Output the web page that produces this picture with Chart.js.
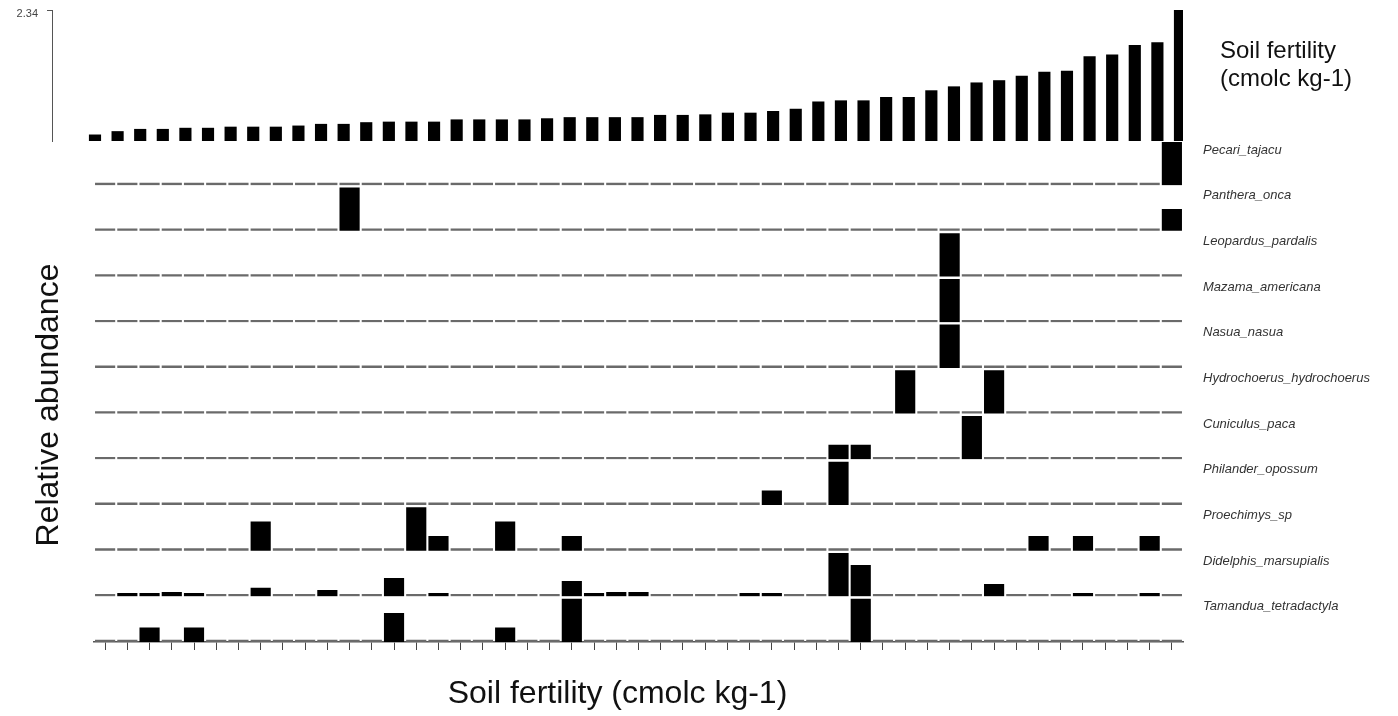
<!DOCTYPE html>
<html>
<head>
<meta charset="utf-8">
<title>Relative abundance along a soil fertility gradient</title>
<script src="https://cdn.jsdelivr.net/npm/chart.js@4.4.1/dist/chart.umd.min.js"></script>
<style>
  html, body { margin: 0; padding: 0; background: #ffffff; }
  #wrap { position: relative; width: 1398px; height: 716px; overflow: hidden; }
  #wrap canvas { position: absolute; left: 0; top: 0; }
</style>
</head>
<body>
<div id="wrap">
  <canvas id="fertilityChart" width="1398" height="716"></canvas>
  <canvas id="abundanceChart" width="1398" height="716"></canvas>
</div>
<script>
// Sampling sites, ordered by increasing soil fertility
const sites = ['1','2','3','4','5','6','7','8','9','10','11','12','13','14','15','16','17',
  '18','19','20','21','22','23','24','25','26','27','28','29','30','31','32','33','34','35',
  '36','37','38','39','40','41','42','43','44','45','46','47','48','49'];

// Soil fertility of each site (cmolc kg-1)
const fertility = [0.11, 0.17, 0.21, 0.21, 0.23, 0.23, 0.25, 0.25, 0.25, 0.27,
  0.30, 0.30, 0.33, 0.34, 0.34, 0.34, 0.38, 0.38, 0.38, 0.38,
  0.40, 0.42, 0.42, 0.42, 0.42, 0.46, 0.46, 0.47, 0.50, 0.50,
  0.53, 0.57, 0.70, 0.72, 0.72, 0.78, 0.78, 0.90, 0.97, 1.04,
  1.08, 1.16, 1.23, 1.25, 1.51, 1.54, 1.71, 1.76, 2.34];
const fertilityTick = 2.34;

// Relative abundance of each species per site (same site order)
const Pecari_tajacu = [0,0,0,0,0,0,0,0,0,0, 0,0,0,0,0,0,0,0,0,0, 0,0,0,0,0,0,0,0,0,0, 0,0,0,0,0,0,0,0,0,0, 0,0,0,0,0,0,0,0,1];
const Panthera_onca = [0,0,0,0,0,0,0,0,0,0, 0,1,0,0,0,0,0,0,0,0, 0,0,0,0,0,0,0,0,0,0, 0,0,0,0,0,0,0,0,0,0, 0,0,0,0,0,0,0,0,0.5];
const Leopardus_pardalis = [0,0,0,0,0,0,0,0,0,0, 0,0,0,0,0,0,0,0,0,0, 0,0,0,0,0,0,0,0,0,0, 0,0,0,0,0,0,0,0,1,0, 0,0,0,0,0,0,0,0,0];
const Mazama_americana = [0,0,0,0,0,0,0,0,0,0, 0,0,0,0,0,0,0,0,0,0, 0,0,0,0,0,0,0,0,0,0, 0,0,0,0,0,0,0,0,1,0, 0,0,0,0,0,0,0,0,0];
const Nasua_nasua = [0,0,0,0,0,0,0,0,0,0, 0,0,0,0,0,0,0,0,0,0, 0,0,0,0,0,0,0,0,0,0, 0,0,0,0,0,0,0,0,1,0, 0,0,0,0,0,0,0,0,0];
const Hydrochoerus_hydrochoerus = [0,0,0,0,0,0,0,0,0,0, 0,0,0,0,0,0,0,0,0,0, 0,0,0,0,0,0,0,0,0,0, 0,0,0,0,0,0,1,0,0,0, 1,0,0,0,0,0,0,0,0];
const Cuniculus_paca = [0,0,0,0,0,0,0,0,0,0, 0,0,0,0,0,0,0,0,0,0, 0,0,0,0,0,0,0,0,0,0, 0,0,0,0.33,0.33,0,0,0,0,1, 0,0,0,0,0,0,0,0,0];
const Philander_opossum = [0,0,0,0,0,0,0,0,0,0, 0,0,0,0,0,0,0,0,0,0, 0,0,0,0,0,0,0,0,0,0, 0.33,0,0,1,0,0,0,0,0,0, 0,0,0,0,0,0,0,0,0];
const Proechimys_sp = [0,0,0,0,0,0,0,0.67,0,0, 0,0,0,0,1,0.33,0,0,0.67,0, 0,0.33,0,0,0,0,0,0,0,0, 0,0,0,0,0,0,0,0,0,0, 0,0,0.33,0,0.33,0,0,0.33,0];
const Didelphis_marsupialis = [0,0.07,0.07,0.09,0.07,0,0,0.19,0,0, 0.14,0,0,0.42,0,0.07,0,0,0,0, 0,0.35,0.07,0.09,0.09,0,0,0,0,0.07, 0.07,0,0,1,0.72,0,0,0,0,0, 0.28,0,0,0,0.07,0,0,0.07,0];
const Tamandua_tetradactyla = [0,0,0.33,0,0.33,0,0,0,0,0, 0,0,0,0.67,0,0,0,0,0.33,0, 0,1,0,0,0,0,0,0,0,0, 0,0,0,0,1,0,0,0,0,0, 0,0,0,0,0,0,0,0,0];

const speciesNames = ['Pecari_tajacu', 'Panthera_onca', 'Leopardus_pardalis', 'Mazama_americana',
  'Nasua_nasua', 'Hydrochoerus_hydrochoerus', 'Cuniculus_paca', 'Philander_opossum',
  'Proechimys_sp', 'Didelphis_marsupialis', 'Tamandua_tetradactyla'];
const speciesValues = [Pecari_tajacu, Panthera_onca, Leopardus_pardalis, Mazama_americana,
  Nasua_nasua, Hydrochoerus_hydrochoerus, Cuniculus_paca, Philander_opossum,
  Proechimys_sp, Didelphis_marsupialis, Tamandua_tetradactyla];

Chart.defaults.font.family = '"Liberation Sans", Arial, Helvetica, sans-serif';
Chart.defaults.color = '#111';

const hidden = {
  grid: { display: false, drawTicks: false },
  border: { display: false }
};

// Keep the plot area where the layout padding puts it, whatever the label sizes
const noLabelPadding = s => { s.paddingTop = 0; s.paddingBottom = 0; };

// ---- Upper panel: soil fertility per site ----
new Chart(document.getElementById('fertilityChart'), {
  type: 'bar',
  data: {
    datasets: [{
      label: 'Soil fertility',
      data: fertility.map((v, i) => ({ x: i, y: v })),
      backgroundColor: '#000',
      barThickness: 11.5,
      xAxisID: 'x',
      yAxisID: 'y'
    }]
  },
  options: {
    responsive: false,
    animation: false,
    events: [],
    layout: { padding: { top: 10, left: 0, right: 0, bottom: 0 } },
    plugins: { legend: { display: false }, tooltip: { enabled: false } },
    scales: {
      x: {
        type: 'linear',
        position: 'bottom',
        offset: false,
        min: -1.902,
        max: 48.133,
        ...hidden,
        ticks: { display: false },
        title: {
          display: true,
          text: 'Soil fertility (cmolc kg-1)',
          color: '#111',
          font: { size: 32 },
          padding: { top: 0, bottom: 3 }
        },
        afterFit: s => { s.height = 575; s.paddingLeft = 0; s.paddingRight = 0; }
      },
      y: {
        position: 'left',
        min: 0,
        max: fertilityTick,
        afterBuildTicks: s => { s.ticks = [{ value: fertilityTick }]; },
        ticks: {
          callback: v => Number(v).toFixed(2),
          color: '#444',
          font: { size: 11 },
          padding: 9,
          labelOffset: 4
        },
        grid: { drawOnChartArea: false, tickLength: 5, color: '#555' },
        border: { color: '#555', width: 1 },
        afterFit: s => { s.width = 52; noLabelPadding(s); }
      },
      yLabel: {
        position: 'right',
        min: 0,
        max: 1,
        afterBuildTicks: s => { s.ticks = [{ value: 0.577 }]; },
        ticks: {
          callback: () => ['Soil fertility', '(cmolc kg-1)'],
          color: '#111',
          font: { size: 24, lineHeight: 1.2 },
          padding: 37
        },
        ...hidden,
        afterFit: s => { s.width = 215; noLabelPadding(s); }
      }
    }
  }
});

// ---- Lower panel: one row of bars per species ----
const rowMax = 1.063;
const labelAt = 0.82;

const lowerScales = {
  x: {
    type: 'category',
    position: 'bottom',
    offset: true,
    grid: { offset: false, drawOnChartArea: false, drawTicks: true, tickLength: 8, color: '#444' },
    border: { display: true, color: '#555', width: 1.5 },
    ticks: { display: false, autoSkip: false },
    afterFit: s => { s.height = 74; }
  },
  yTitle: {
    position: 'left',
    stack: 'left',
    stackWeight: 474,
    weight: 1,
    ticks: { display: false },
    ...hidden,
    title: {
      display: true,
      text: 'Relative abundance',
      color: '#111',
      font: { size: 32 },
      padding: { top: 30, bottom: 0 }
    },
    afterFit: s => { s.width = 94; }
  },
  yGap: {
    position: 'left',
    stack: 'left',
    stackWeight: 28.5,
    weight: 2,
    ticks: { display: false },
    ...hidden,
    afterFit: s => { s.width = 94; }
  }
};

speciesNames.forEach((name, k) => {
  lowerScales['row' + k] = {
    position: 'right',
    stack: 'rows',
    stackWeight: 1,
    min: 0,
    max: rowMax,
    afterBuildTicks: s => { s.ticks = [{ value: labelAt }]; },
    ticks: {
      callback: () => name,
      color: '#333',
      font: { size: 13, style: 'italic' },
      padding: 20
    },
    ...hidden,
    afterFit: s => { s.width = 215; }
  };
});

new Chart(document.getElementById('abundanceChart'), {
  type: 'bar',
  data: {
    labels: sites,
    datasets: speciesNames.map((name, k) => ({
      label: name,
      data: speciesValues[k],
      xAxisID: 'x',
      yAxisID: 'row' + k,
      grouped: false,
      barThickness: 19.5,
      minBarLength: 2,
      backgroundColor: ctx => (ctx.raw > 0 ? '#000' : '#6a6a6a')
    }))
  },
  options: {
    responsive: false,
    animation: false,
    events: [],
    layout: { padding: { top: 139.5, left: 0, right: 0, bottom: 0 } },
    plugins: { legend: { display: false }, tooltip: { enabled: false } },
    scales: lowerScales
  }
});
</script>
</body>
</html>
